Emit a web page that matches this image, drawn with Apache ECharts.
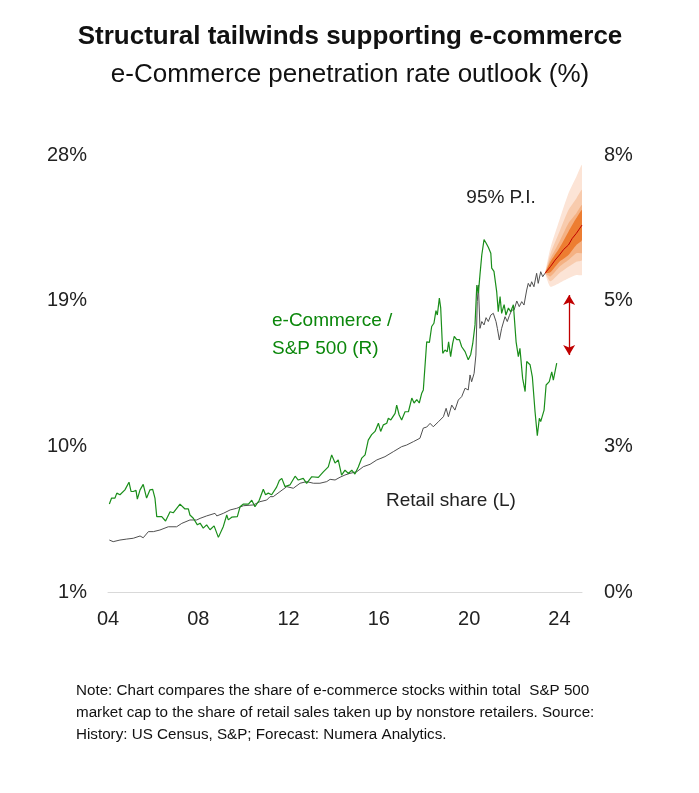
<!DOCTYPE html>
<html>
<head>
<meta charset="utf-8">
<script src="https://cdn.jsdelivr.net/npm/echarts@6/dist/echarts.min.js"></script>
<style>
html,body{margin:0;padding:0;background:#fff;}
#chart{width:699px;height:793px;}
</style>
</head>
<body>
<div id="chart"></div>
<script>
// ---- Data ----
const xTickYears = [2004, 2008, 2012, 2016, 2020, 2024];
const leftTicks = [1, 10, 19, 28];
const rightTicks = [0, 8 / 3, 16 / 3, 8];

// Retail share (nonstore retailers), left axis, %
const retailYears = [2004.06,2004.23,2004.53,2004.83,2005.12,2005.42,2005.56,2005.79,2006.01,2006.30,2006.67,2007.04,2007.27,2007.63,2007.93,2008.08,2008.37,2008.74,2008.82,2009.11,2009.41,2009.70,2010.00,2010.44,2010.73,2011.03,2011.18,2011.32,2011.62,2011.92,2012.21,2012.51,2012.80,2013.10,2013.39,2013.69,2013.84,2014.06,2014.28,2014.50,2014.72,2015.02,2015.31,2015.61,2015.91,2016.27,2016.64,2017.01,2017.23,2017.53,2017.82,2017.97,2018.12,2018.27,2018.41,2018.64,2018.86,2018.98,2019.08,2019.23,2019.37,2019.52,2019.67,2019.82,2019.96,2020.04,2020.11,2020.22,2020.30,2020.36,2020.41,2020.48,2020.56,2020.66,2020.75,2020.85,2020.96,2021.07,2021.19,2021.25,2021.34,2021.44,2021.59,2021.69,2021.78,2021.89,2021.99,2022.11,2022.22,2022.33,2022.43,2022.55,2022.62,2022.70,2022.77,2022.87,2022.99,2023.06,2023.17,2023.26,2023.36];
const retailShare = [4.21,4.11,4.21,4.27,4.32,4.46,4.35,4.73,4.73,4.83,5.03,5.03,5.24,5.45,5.45,5.55,5.70,5.86,5.70,5.86,6.07,6.17,6.33,6.38,6.58,6.68,6.89,6.89,7.20,7.51,7.41,7.72,7.82,7.72,7.72,7.82,7.96,7.92,8.09,8.23,8.33,8.43,8.74,8.89,9.16,9.36,9.67,9.98,10.08,10.29,10.50,11.13,11.19,11.42,11.21,11.52,11.83,12.35,11.83,12.55,12.24,12.86,13.07,13.59,13.48,14.41,13.99,14.51,15.64,18.94,19.97,17.29,17.71,17.50,17.95,17.71,18.11,18.22,17.71,17.29,16.57,17.29,18.01,17.71,18.07,18.42,18.42,18.98,18.63,18.94,18.73,19.66,20.07,19.86,20.17,19.86,20.69,20.07,20.79,20.48,20.69];

// e-Commerce share of S&P 500 market cap, right axis, %
const ecomYears = [2004.06,2004.16,2004.31,2004.39,2004.53,2004.75,2004.93,2005.02,2005.12,2005.24,2005.30,2005.42,2005.56,2005.71,2005.86,2005.98,2006.08,2006.16,2006.38,2006.45,2006.55,2006.75,2006.89,2007.19,2007.41,2007.56,2007.63,2007.78,2007.96,2008.08,2008.22,2008.37,2008.52,2008.70,2008.89,2009.11,2009.26,2009.33,2009.48,2009.73,2009.85,2010.00,2010.22,2010.37,2010.51,2010.70,2010.88,2010.98,2011.10,2011.25,2011.47,2011.59,2011.70,2011.84,2012.06,2012.29,2012.43,2012.65,2012.80,2013.03,2013.32,2013.54,2013.76,2013.91,2014.06,2014.20,2014.35,2014.50,2014.65,2014.80,2014.94,2015.09,2015.24,2015.39,2015.53,2015.68,2015.83,2015.98,2016.08,2016.20,2016.35,2016.42,2016.53,2016.72,2016.79,2016.90,2017.01,2017.16,2017.31,2017.46,2017.56,2017.68,2017.79,2017.90,2017.97,2018.12,2018.24,2018.34,2018.44,2018.53,2018.59,2018.68,2018.74,2018.83,2018.93,2019.03,2019.09,2019.18,2019.27,2019.34,2019.45,2019.57,2019.67,2019.82,2019.96,2020.07,2020.16,2020.26,2020.34,2020.41,2020.48,2020.56,2020.66,2020.75,2020.85,2020.96,2021.00,2021.10,2021.22,2021.29,2021.37,2021.44,2021.55,2021.63,2021.74,2021.84,2021.96,2022.08,2022.18,2022.25,2022.37,2022.48,2022.55,2022.70,2022.80,2022.92,2023.02,2023.11,2023.17,2023.32,2023.41,2023.55,2023.66,2023.73,2023.88];
const ecomShare = [1.61,1.72,1.72,1.81,1.78,1.87,2.01,1.84,1.84,1.86,1.70,1.87,1.97,1.72,1.87,1.88,1.72,1.38,1.38,1.41,1.30,1.47,1.45,1.61,1.52,1.52,1.41,1.35,1.23,1.26,1.17,1.23,1.14,1.21,1.00,1.20,1.41,1.32,1.37,1.38,1.56,1.61,1.61,1.68,1.56,1.68,1.88,1.78,1.81,1.78,1.92,2.04,2.08,1.93,1.96,2.12,2.05,2.08,1.99,2.11,2.10,2.20,2.29,2.51,2.36,2.42,2.14,2.23,2.17,2.23,2.16,2.29,2.45,2.51,2.78,2.88,2.94,3.09,2.94,3.06,3.09,3.18,3.15,3.27,3.42,3.24,3.15,3.30,3.30,3.55,3.46,3.52,3.46,3.64,3.70,4.58,4.57,4.86,4.92,5.15,5.07,5.38,5.20,4.37,4.43,4.40,4.58,4.31,4.55,4.68,4.62,4.62,4.49,4.40,4.25,4.35,4.55,4.89,5.62,5.47,5.81,6.17,6.45,6.39,6.31,6.20,5.93,5.87,5.50,5.13,5.41,5.10,5.26,5.07,5.20,5.13,5.26,4.58,4.31,4.46,3.91,3.67,4.22,4.16,3.94,3.30,2.86,3.18,3.12,3.33,3.79,3.85,4.03,3.88,4.19];

// Forecast fan (left axis, %)
const fanYears      = [2023.36, 2023.60, 2024.00, 2024.40, 2024.75, 2025.00];
const fanOuterLow   = [20.69, 19.86, 20.09, 20.38, 20.59, 20.59];
const fanOuterHigh  = [20.69, 22.25, 23.98, 25.63, 26.66, 27.38];
const fan2Low       = [20.69, 20.20, 20.70, 21.10, 21.41, 21.50];
const fan2High      = [20.69, 21.90, 23.26, 24.60, 25.32, 25.84];
const fan3Low       = [20.69, 20.50, 21.10, 21.51, 21.93, 21.95];
const fan3High      = [20.69, 21.60, 22.64, 23.78, 24.40, 24.90];
const fanInnerLow   = [20.69, 20.75, 21.40, 21.82, 22.44, 22.75];
const fanInnerHigh  = [20.69, 21.40, 22.25, 23.26, 24.10, 24.60];
const medianYears   = [2023.36, 2023.60, 2023.81, 2024.00, 2024.19, 2024.40, 2024.57, 2024.75, 2025.00];
const medianValues  = [20.69, 21.10, 21.51, 21.82, 22.17, 22.44, 22.85, 23.16, 23.67];

// Gap arrow (left axis values)
const gapArrowYear = 2024.43;
const gapArrowRange = [19.35, 15.64];

// ---- Helpers ----
const FONT = 'Liberation Sans, Arial, sans-serif';
const pair = (xs, ys) => xs.map((x, i) => [x, ys[i]]);

const fanBands = [
  { lo: fanOuterLow, hi: fanOuterHigh, color: '#FCE4D6' },
  { lo: fan2Low, hi: fan2High, color: '#F8CBAD' },
  { lo: fan3Low, hi: fan3High, color: '#F4B183' },
  { lo: fanInnerLow, hi: fanInnerHigh, color: '#ED7D31' }
];

function renderBand(params, api) {
  const b = fanBands[params.dataIndex];
  const upper = fanYears.map((x, i) => api.coord([x, b.hi[i]]));
  const lower = fanYears.map((x, i) => api.coord([x, b.lo[i]])).reverse();
  return {
    type: 'polygon',
    shape: { points: upper.concat(lower), smooth: 0.2 },
    style: { fill: b.color, stroke: null },
    silent: true
  };
}

const chart = echarts.init(document.getElementById('chart'), null, { renderer: 'canvas' });

const option = {
  animation: false,
  backgroundColor: '#ffffff',
  textStyle: { fontFamily: FONT },
  grid: { left: 108, right: 117, top: 155, bottom: 201, containLabel: false },
  xAxis: {
    type: 'value', min: 2004, max: 2025, interval: 4,
    axisLine: { show: true, lineStyle: { color: '#D9D9D9', width: 1 } },
    axisTick: { show: false },
    splitLine: { show: false },
    axisLabel: {
      showMaxLabel: false,
      margin: 17, fontSize: 20, color: '#222', fontFamily: FONT,
      formatter: v => xTickYears.indexOf(v) >= 0 ? String(v).slice(2) : ''
    }
  },
  yAxis: [
    {
      type: 'value', min: leftTicks[0], max: leftTicks[3], interval: 9, position: 'left',
      axisLine: { show: false }, axisTick: { show: false }, splitLine: { show: false },
      axisLabel: { margin: 21, fontSize: 20, color: '#222', fontFamily: FONT, formatter: v => Math.round(v) + '%' }
    },
    {
      type: 'value', min: rightTicks[0], max: rightTicks[3], interval: rightTicks[1], position: 'right',
      axisLine: { show: false }, axisTick: { show: false }, splitLine: { show: false },
      axisLabel: { margin: 22, fontSize: 20, color: '#222', fontFamily: FONT, formatter: v => Math.round(v) + '%' }
    }
  ],
  series: [
    {
      type: 'custom', name: 'fan', xAxisIndex: 0, yAxisIndex: 0,
      data: fanBands.map((b, i) => [fanYears[0], b.lo[0]]),
      renderItem: renderBand, clip: true, silent: true, z: 2
    },
    {
      type: 'line', name: 'median', data: pair(medianYears, medianValues), yAxisIndex: 0,
      symbol: 'none', silent: true, lineStyle: { color: '#C00000', width: 1 }, z: 6
    },
    {
      type: 'line', name: 'Retail share (L)', data: pair(retailYears, retailShare), yAxisIndex: 0,
      symbol: 'none', silent: true, lineStyle: { color: '#505050', width: 1 }, z: 7,
      markLine: {
        silent: true, symbol: ['arrow', 'arrow'], symbolSize: [9, 10],
        label: { show: false },
        lineStyle: { color: '#C00000', width: 1.3, type: 'solid' },
        emphasis: { disabled: true },
        data: [[{ coord: [gapArrowYear, gapArrowRange[0]] }, { coord: [gapArrowYear, gapArrowRange[1]] }]]
      }
    },
    {
      type: 'line', name: 'e-Commerce / S&P 500 (R)', data: pair(ecomYears, ecomShare), yAxisIndex: 1,
      symbol: 'none', silent: true, lineStyle: { color: '#1A8E1A', width: 1.2 }, z: 8
    }
  ],
  graphic: [
    { type: 'text', x: 350, y: 37, style: { text: 'Structural tailwinds supporting e-commerce', font: 'bold 26px ' + FONT, fill: '#111', align: 'center', verticalAlign: 'middle' } },
    { type: 'text', x: 350, y: 75, style: { text: 'e-Commerce penetration rate outlook (%)', font: '26px ' + FONT, fill: '#111', align: 'center', verticalAlign: 'middle' } },
    { type: 'text', x: 501, y: 198, style: { text: '95% P.I.', font: '19px ' + FONT, fill: '#222', align: 'center', verticalAlign: 'middle' } },
    { type: 'text', x: 272, y: 321, style: { text: 'e-Commerce /', font: '19px ' + FONT, fill: '#0B870B', align: 'left', verticalAlign: 'middle' } },
    { type: 'text', x: 272, y: 349, style: { text: 'S&P 500 (R)', font: '19px ' + FONT, fill: '#0B870B', align: 'left', verticalAlign: 'middle' } },
    { type: 'text', x: 386, y: 501, style: { text: 'Retail share (L)', font: '19px ' + FONT, fill: '#222', align: 'left', verticalAlign: 'middle' } },
    { type: 'text', x: 76, y: 679.5, style: { text: 'Note: Chart compares the share of e-commerce stocks within total  S&P 500\nmarket cap to the share of retail sales taken up by nonstore retailers. Source:\nHistory: US Census, S&P; Forecast: Numera Analytics.', font: '15.2px ' + FONT, lineHeight: 22, fill: '#111', align: 'left', verticalAlign: 'top' } }
  ]
};

chart.setOption(option);
</script>
</body>
</html>
